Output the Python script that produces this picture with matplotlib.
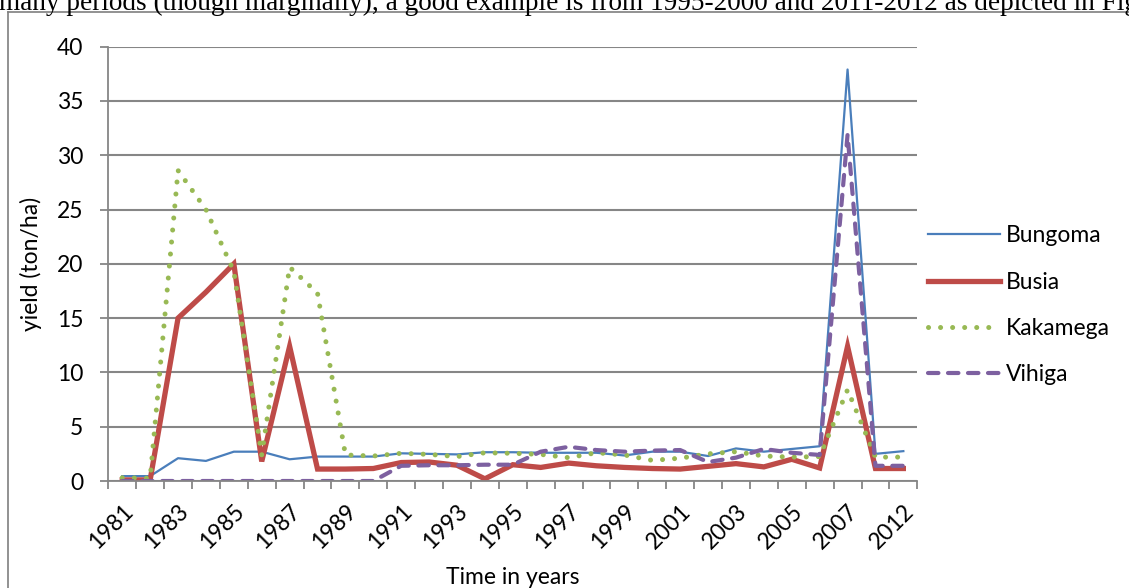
import matplotlib
matplotlib.use("Agg")
import matplotlib.pyplot as plt
from matplotlib.lines import Line2D

# yield per district, one value per year category
years = ['1981', '1982', '1983', '1984', '1985', '1986', '1987', '1988', '1989', '1990',
         '1991', '1992', '1993', '1994', '1995', '1996', '1997', '1998', '1999', '2000',
         '2001', '2002', '2003', '2004', '2005', '2006', '2007', '2011', '2012']
bungoma = [0.45, 0.45, 2.1, 1.85, 2.7, 2.7, 2.0, 2.25, 2.25, 2.25,
           2.55, 2.5, 2.45, 2.65, 2.65, 2.6, 2.6, 2.6, 2.35, 2.7,
           2.7, 2.3, 3.0, 2.7, 2.95, 3.2, 37.9, 2.5, 2.75]
busia = [0.1, 0.1, 15.0, 17.4, 20.0, 1.8, 12.4, 1.1, 1.1, 1.15,
         1.7, 1.75, 1.45, 0.2, 1.5, 1.25, 1.65, 1.4, 1.25, 1.15,
         1.1, 1.35, 1.6, 1.3, 2.0, 1.2, 12.4, 1.15, 1.15]
kakamega = [0.3, 0.25, 28.6, 25.0, 19.3, 2.4, 19.7, 17.3, 2.4, 2.3,
            2.55, 2.45, 2.25, 2.6, 2.55, 2.45, 2.15, 2.6, 2.4, 1.9,
            2.1, 2.5, 2.7, 2.3, 2.2, 2.25, 8.4, 2.2, 2.2]
vihiga = [0, 0, 0, 0, 0, 0, 0, 0, 0, 0,
          1.4, 1.45, 1.45, 1.5, 1.5, 2.7, 3.15, 2.85, 2.7, 2.8,
          2.85, 1.75, 2.15, 2.95, 2.6, 2.4, 31.9, 1.4, 1.4]

plt.rcParams['font.family'] = ['Lato', 'DejaVu Sans']
plt.rcParams['font.size'] = 16.5

fig = plt.figure(figsize=(11.29, 5.88), dpi=100)
ax = fig.add_axes([108.3 / 1129, 1 - 481 / 588, (917.3 - 108.3) / 1129, (481 - 46.7) / 588])

x = list(range(len(years)))
ax.plot(x, bungoma, color='#4A7EBB', lw=1.6, label='Bungoma')
ax.plot(x, busia, color='#BE4B48', lw=3.8, solid_joinstyle='miter', label='Busia')
ax.plot(x, kakamega, color='#98B954', lw=3.6, dashes=(0.01, 2.4), dash_capstyle='round', label='Kakamega')
ax.plot(x, vihiga, color='#7D60A0', lw=3.0, dashes=(2.5, 2.3), dash_capstyle='round', label='Vihiga')

grey = '#868686'
ax.set_xlim(-0.5, len(years) - 0.5)
ax.set_ylim(0, 40)
ax.set_yticks(range(0, 41, 5))
ax.yaxis.grid(True, color=grey, lw=1.5)
ax.set_axisbelow(True)
for s in ['top', 'right']:
    ax.spines[s].set_visible(False)
for s in ['left', 'bottom']:
    ax.spines[s].set_color(grey)
    ax.spines[s].set_linewidth(1.3)
ax.tick_params(axis='y', length=6, width=1.3, color=grey, pad=12)

# labels every other category, tick marks at category boundaries
ax.set_xticks(x[::2])
ax.set_xticklabels(years[::2], rotation=45, ha='right', rotation_mode='anchor')
ax.tick_params(axis='x', which='major', length=0, pad=14)
ax.set_xticks([i - 0.5 for i in range(len(years) + 1)], minor=True)
ax.tick_params(axis='x', which='minor', length=6, width=1.3, color=grey)

ax.set_xlabel('Time in years', labelpad=10)
ax.set_ylabel('yield (ton/ha)', labelpad=11)

fig.legend(loc='upper left', bbox_to_anchor=(917 / 1129, 1 - 214 / 588), frameon=False,
           handlelength=3.1, handletextpad=0.3, labelspacing=1.1, borderpad=0)

# frame of the embedded chart and the page text above it
fig.add_artist(Line2D([8 / 1129, 1], [1 - 12 / 588, 1 - 12 / 588], color='#7f7f7f', lw=1.2))
fig.add_artist(Line2D([8 / 1129, 8 / 1129], [0, 1 - 12 / 588], color='#7f7f7f', lw=1.2))
fig.text(-0.001, 1 - 10.5 / 588, 'many periods (though marginally), a good example is from 1995-2000 and 2011-2012 as depicted in Figure',
         family='Liberation Serif', fontsize=19.6, va='baseline')

fig.savefig('out.png', dpi=100)
